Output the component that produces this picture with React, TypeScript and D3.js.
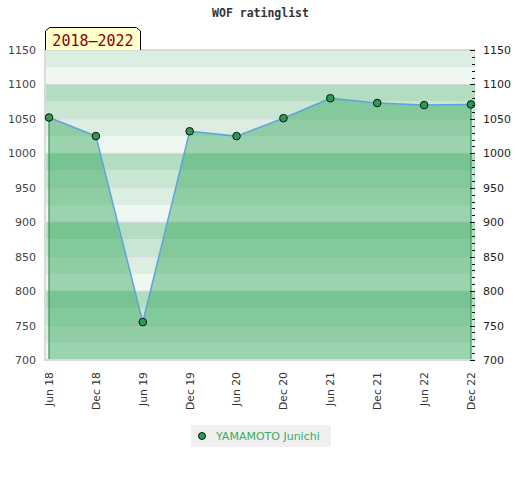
import * as d3 from 'd3'

const periods = ['Jun 18', 'Dec 18', 'Jun 19', 'Dec 19', 'Jun 20', 'Dec 20', 'Jun 21', 'Dec 21', 'Jun 22', 'Dec 22']
const ratings = [1052, 1025, 755, 1032, 1025, 1051, 1080, 1073, 1070, 1071]
const player = 'YAMAMOTO Junichi'
const rangeLabel = '2018–2022'
const title = 'WOF ratinglist'
const yTicks = [700, 750, 800, 850, 900, 950, 1000, 1050, 1100, 1150]

// colours of the four 25-point bands inside each 100 block, bottom to top
const bandColors = ['#eff7f2', '#dcede2', '#c8e6d2', '#b3dcc0']

const W = 520
const H = 480
const left = 45
const right = 475
const top = 50
const bottom = 360

const x = d3.scalePoint<string>().domain(periods).range([49, 471])
const y = d3.scaleLinear().domain([700, 1150]).range([bottom, top])

interface Pt {
  p: string
  v: number
}
const pts: Pt[] = periods.map((p, i) => ({ p, v: ratings[i] }))

const area = d3
  .area<Pt>()
  .x((d) => x(d.p) as number)
  .y0(y(700))
  .y1((d) => y(d.v))
const line = d3
  .line<Pt>()
  .x((d) => x(d.p) as number)
  .y((d) => y(d.v))

const bands = d3.range(700, 1150, 25)
const minor = d3.range(700, 1151, 10)

const sans = 'DejaVu Sans, sans-serif'
const mono = 'DejaVu Sans Mono, monospace'

export default function App() {
  const first = pts[0]
  const last = pts[pts.length - 1]
  return (
    <svg width={W} height={H} style={{ position: 'absolute', left: 0, top: 0 }}>
      <rect width={W} height={H} fill="#fff" />
      <text x={260.5} y={17} textAnchor="middle" fontFamily={mono} fontWeight="bold" fontSize={11.5} fill="#333">
        {title}
      </text>

      {/* background bands */}
      {bands.map((b) => (
        <rect
          key={b}
          x={left}
          width={right - left}
          y={y(b + 25)}
          height={y(b) - y(b + 25)}
          fill={bandColors[((b - 700) / 25) % 4]}
        />
      ))}
      {yTicks.map((t) => (
        <line key={t} x1={left} x2={right} y1={y(t)} y2={y(t)} stroke="#d8d8d8" strokeWidth={1} />
      ))}

      {/* rating area */}
      <path d={area(pts) || ''} fill="rgb(31,158,76)" fillOpacity={0.4} />
      <line x1={x(first.p)} x2={x(first.p)} y1={y(first.v)} y2={y(700)} stroke="#2e9a55" strokeWidth={1.2} />
      <line x1={x(last.p)} x2={x(last.p)} y1={y(last.v)} y2={y(700)} stroke="#2e9a55" strokeWidth={1.2} />
      <path d={line(pts) || ''} fill="none" stroke="#5ea3dc" strokeWidth={1.5} />

      {/* plot border */}
      <path d={`M${right},${top}H${left}V${bottom}H${right}`} fill="none" stroke="#dadada" strokeWidth={2} />

      {pts.map((d) => (
        <circle key={d.p} cx={x(d.p)} cy={y(d.v)} r={3.8} fill="#2a9d55" stroke="#111" strokeWidth={1} />
      ))}

      {/* left axis */}
      {yTicks.map((t) => (
        <text key={t} x={36} y={y(t)} dy="0.36em" textAnchor="end" fontFamily={sans} fontSize={11} fill="#444">
          {t}
        </text>
      ))}

      {/* right axis */}
      {minor.map((t) => (
        <line
          key={t}
          x1={t % 50 === 0 ? 470 : 472}
          x2={475}
          y1={Math.round(y(t)) + 0.5}
          y2={Math.round(y(t)) + 0.5}
          stroke="#111"
          strokeWidth={1}
        />
      ))}
      {yTicks.map((t) => (
        <text key={t} x={483} y={y(t)} dy="0.36em" fontFamily={sans} fontSize={11} fill="#222">
          {t}
        </text>
      ))}

      {/* x axis */}
      {periods.map((p) => (
        <text
          key={p}
          transform={`translate(${x(p)},372) rotate(-90)`}
          dy="0.36em"
          textAnchor="end"
          fontFamily={sans}
          fontSize={10.8}
          fill="#333"
        >
          {p}
        </text>
      ))}

      {/* period label */}
      <path d="M45.5,50 V31 L49.5,27.5 H136.5 L140.5,31 V50" fill="#ffffcc" stroke="#000" strokeWidth={1} />
      <text x={93} y={46} textAnchor="middle" fontFamily={mono} fontSize={15} fill="#8b0000">
        {rangeLabel}
      </text>

      {/* legend */}
      <rect x={191} y={425} width={140} height={22} fill="#f0f0f0" />
      <circle cx={202} cy={436} r={3.5} fill="#2a9d55" stroke="#111" strokeWidth={1} />
      <text x={216} y={436} dy="0.36em" fontFamily={sans} fontSize={11} fill="#3aaa60">
        {player}
      </text>
    </svg>
  )
}
